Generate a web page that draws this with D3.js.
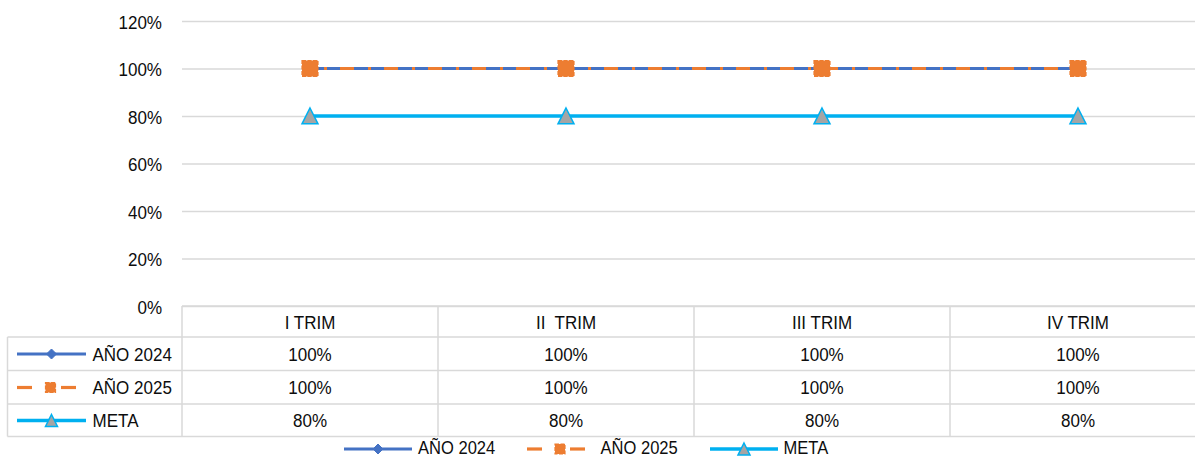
<!DOCTYPE html>
<html>
<head>
<meta charset="utf-8">
<script src="https://cdn.jsdelivr.net/npm/d3@7"></script>
<style>
  html, body { margin: 0; padding: 0; background: #fff; }
  svg { display: block; }
  text { font-family: "Liberation Sans", Arial, sans-serif; font-size: 18.5px; fill: #0d0d0d; white-space: pre; }
  .legend text { font-size: 18px; }
</style>
</head>
<body>
<svg id="chart" width="1195" height="458"></svg>
<script>
// Quarterly compliance vs. target
const categories = ["I TRIM", "II  TRIM", "III TRIM", "IV TRIM"];
const ano2024 = [1, 1, 1, 1];
const ano2025 = [1, 1, 1, 1];
const meta = [0.8, 0.8, 0.8, 0.8];
const yTicks = [0, 0.2, 0.4, 0.6, 0.8, 1.0, 1.2];
const seriesNames = ["AÑO 2024", "AÑO 2025", "META"];

const W = 1195, H = 458;
const svg = d3.select("#chart");
const SQUEEZE = 0.92; // horizontal condensing of the label font

function condense(sel) {
  sel.each(function () {
    const t = d3.select(this);
    const x = +t.attr("x") || 0;
    t.attr("x", x / SQUEEZE).attr("transform", `scale(${SQUEEZE},1)`);
  });
}

const x = d3.scaleBand().domain(categories).range([182, 1206]).padding(0);
const y = d3.scaleLinear().domain([0, 1.2]).range([306, 21]);
const cx = c => x(c) + x.bandwidth() / 2;
const pct = d3.format(".0%");

// y axis with gridlines
const yAxis = svg.append("g")
  .attr("transform", "translate(182,0)")
  .call(d3.axisLeft(y).tickValues(yTicks).tickFormat(pct)
    .tickSizeInner(-(1206 - 182)).tickSizeOuter(0).tickPadding(20));
yAxis.select(".domain").remove();
yAxis.selectAll(".tick line").attr("stroke", "#d9d9d9").attr("stroke-width", 1.5);
yAxis.selectAll(".tick text")
  .attr("font-family", null).attr("font-size", null).attr("fill", null)
  .attr("dy", "0.4em");
condense(yAxis.selectAll(".tick text"));

// data table grid
const rowLines = [306, 337, 370.5, 404, 436.5];
const table = svg.append("g").attr("stroke", "#d9d9d9").attr("stroke-width", 1.5).attr("fill", "none");
rowLines.forEach((ry, i) => {
  table.append("line").attr("x1", i === 0 ? 182 : 7.5).attr("x2", W).attr("y1", ry).attr("y2", ry);
});
table.append("line").attr("x1", 7.5).attr("x2", 7.5).attr("y1", 337).attr("y2", 436.5);
categories.forEach(c => {
  table.append("line").attr("x1", x(c)).attr("x2", x(c)).attr("y1", 306).attr("y2", 436.5);
});

// header row
const hdr = svg.append("g").selectAll("text").data(categories).join("text")
  .attr("x", d => cx(d)).attr("y", 322).attr("dy", "0.36em")
  .attr("text-anchor", "middle").text(d => d);
condense(hdr);

// value rows
const seriesData = [ano2024, ano2025, meta];
const rowCenters = [354, 387.5, 420.5];
seriesData.forEach((vals, r) => {
  const t = svg.append("g").selectAll("text").data(vals).join("text")
    .attr("x", (d, i) => cx(categories[i])).attr("y", rowCenters[r]).attr("dy", "0.36em")
    .attr("text-anchor", "middle").text(d => pct(d));
  condense(t);
});

// marker drawing helpers
const BLUE = "#4472C4", ORANGE = "#ED7D31", CYAN = "#00B0F0", GREY = "#A5A5A5";
function diamond(g, px, py, s) {
  g.append("path").attr("d", `M${px},${py - s}L${px + s},${py}L${px},${py + s}L${px - s},${py}Z`)
    .attr("fill", BLUE).attr("stroke", BLUE).attr("stroke-width", 1);
}
function square(g, px, py, s) {
  g.append("rect").attr("x", px - s).attr("y", py - s).attr("width", 2 * s).attr("height", 2 * s)
    .attr("fill", ORANGE).attr("stroke", ORANGE).attr("stroke-width", 1.2).attr("stroke-dasharray", "4,1.5");
}
function triangle(g, px, py, s) {
  g.append("path").attr("d", `M${px},${py - s}L${px + s},${py + s * 0.98}L${px - s},${py + s * 0.98}Z`)
    .attr("fill", GREY).attr("stroke", CYAN).attr("stroke-width", 1.5);
}

// lines
const line = d3.line().x((d, i) => cx(categories[i])).y(d => y(d));
const plot = svg.append("g");
plot.append("path").datum(meta).attr("d", line).attr("fill", "none")
  .attr("stroke", CYAN).attr("stroke-width", 3.5);
plot.append("path").datum(ano2024).attr("d", line).attr("fill", "none")
  .attr("stroke", BLUE).attr("stroke-width", 3.2);
plot.append("path").datum(ano2025).attr("d", line).attr("fill", "none")
  .attr("stroke", ORANGE).attr("stroke-width", 3.2).attr("stroke-dasharray", "14,14,3,13")
  .attr("stroke-dashoffset", -30);

ano2024.forEach((v, i) => diamond(plot, cx(categories[i]), y(v), 7));
ano2025.forEach((v, i) => square(plot, cx(categories[i]), y(v), 8));
meta.forEach((v, i) => triangle(plot, cx(categories[i]), y(v), 8));

// legend keys
function key(g, kind, x0, x1, py) {
  if (kind === 0) {
    g.append("line").attr("x1", x0).attr("x2", x1).attr("y1", py).attr("y2", py)
      .attr("stroke", BLUE).attr("stroke-width", 3.2);
    diamond(g, (x0 + x1) / 2, py, 5);
  } else if (kind === 1) {
    const m = (x0 + x1) / 2;
    g.append("line").attr("x1", x0).attr("x2", x0 + 15).attr("y1", py).attr("y2", py)
      .attr("stroke", ORANGE).attr("stroke-width", 3.2);
    g.append("line").attr("x1", x1 - 15).attr("x2", x1).attr("y1", py).attr("y2", py)
      .attr("stroke", ORANGE).attr("stroke-width", 3.2);
    square(g, m + 4, py, 5);
  } else {
    g.append("line").attr("x1", x0).attr("x2", x1).attr("y1", py).attr("y2", py)
      .attr("stroke", CYAN).attr("stroke-width", 3.5);
    triangle(g, (x0 + x1) / 2, py, 6);
  }
}

// table row legend
const tl = svg.append("g");
seriesNames.forEach((name, r) => {
  if (r === 1) key(tl, r, 17, 76, rowCenters[r]);
  else key(tl, r, 17, 86, rowCenters[r]);
  const t = tl.append("text").attr("x", 92.5).attr("y", rowCenters[r]).attr("dy", "0.36em").text(name);
  condense(t);
});

// bottom legend
const bl = svg.append("g").attr("class", "legend");
const LEG_Y = 447.5;
const legendItems = [
  { x0: 344, x1: 412, tx: 418 },
  { x0: 527, x1: 585, tx: 600.5 },
  { x0: 710, x1: 778, tx: 783.5 }
];
seriesNames.forEach((name, i) => {
  const it = legendItems[i];
  key(bl, i, it.x0, it.x1, LEG_Y + 1.5);
  const t = bl.append("text").attr("x", it.tx).attr("y", LEG_Y).attr("dy", "0.36em").text(name);
  condense(t);
});
</script>
</body>
</html>
